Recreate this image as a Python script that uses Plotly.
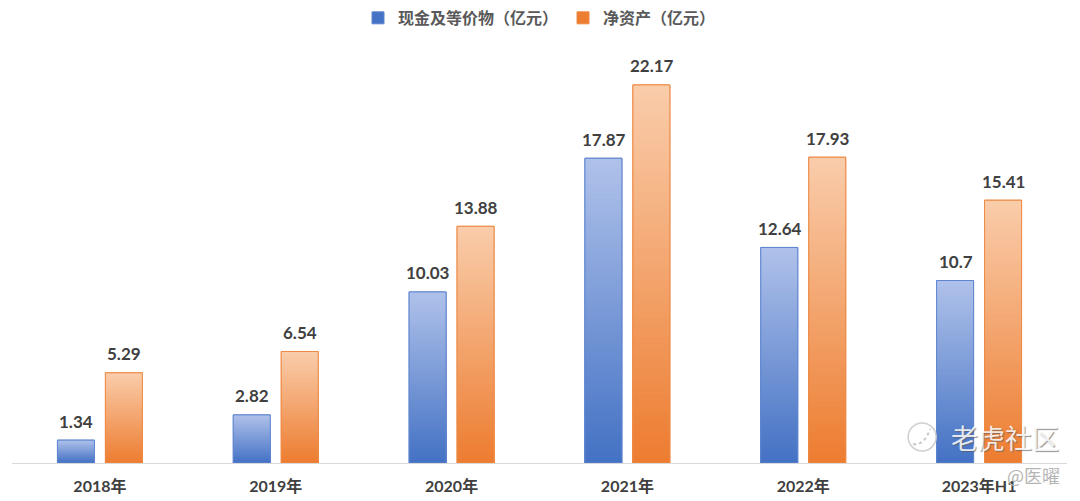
import plotly.graph_objects as go

categories = ["2018年", "2019年", "2020年", "2021年", "2022年", "2023年H1"]
cash = [1.34, 2.82, 10.03, 17.87, 12.64, 10.7]
equity = [5.29, 6.54, 13.88, 22.17, 17.93, 15.41]
names = ["现金及等价物（亿元）", "净资产（亿元）"]
tops = [(175, 193, 234), (249, 204, 170)]
bottoms = [(68, 114, 196), (237, 125, 49)]
outlines = ["#5f86cf", "#ee8a45"]
solids = ["#4472c4", "#ed7d31"]
BANDS = 60
LATIN = "Lato, 'Noto Sans CJK SC', sans-serif"
SERIF = "'Liberation Serif', 'Noto Sans CJK SC', serif"
INK = "#404040"
W, H0 = 1056, 463


def px(x):
    return (x - 11) / W


def py(y):
    return (463 - y) / H0


fig = go.Figure()
for idx, (name, values) in enumerate(zip(names, [cash, equity])):
    group = "abc"[idx]
    fig.add_trace(go.Bar(x=categories, y=values, name=name, offsetgroup=group,
                         marker=dict(color=solids[idx], line=dict(color=outlines[idx], width=1))))
    xs, hs, cols = [], [], []
    for c, v in zip(categories, values):
        for i in range(BANDS - 1, -1, -1):
            t = i / (BANDS - 1)
            rgb = [round(b + (a - b) * t) for a, b in zip(tops[idx], bottoms[idx])]
            xs.append(c)
            hs.append(v * (i + 1) / BANDS)
            cols.append(f"rgb({rgb[0]},{rgb[1]},{rgb[2]})")
    fig.add_trace(go.Bar(x=xs, y=hs, base=[0] * len(hs), offsetgroup=group, showlegend=False,
                         hoverinfo="skip", marker=dict(color=cols, line=dict(width=0))))
    fig.add_trace(go.Bar(x=categories, y=values, offsetgroup=group, showlegend=False,
                         marker=dict(color="rgba(0,0,0,0)", line=dict(color=outlines[idx], width=1))))
    shift = -23.5 if idx == 0 else 24.5
    for c, v in zip(categories, values):
        fig.add_annotation(x=c, y=v, text=str(v), showarrow=False, xshift=shift, yshift=19,
                           font=dict(family=LATIN, size=17, color=INK, weight="bold"))

# watermark
fig.add_shape(type="circle", xref="paper", yref="paper", x0=px(908), x1=px(936), y0=py(451), y1=py(423),
              line=dict(color="#d0d0d0", width=1.5), fillcolor="rgba(255,255,255,0.2)")
fig.add_shape(type="path", xref="paper", yref="paper",
              path=f"M {px(913)} {py(444)} Q {px(924)} {py(446)} {px(930)} {py(429)}",
              line=dict(color="#c8c8c8", width=2, dash="dot"))
fig.add_annotation(xref="paper", yref="paper", x=px(1005), y=py(437), text="老虎社区",
                   xanchor="center", yanchor="middle", showarrow=False,
                   font=dict(family="'Noto Sans CJK SC'", size=27, color="rgba(255,255,255,0.85)",
                             shadow="1px 1px 1px rgba(90,90,90,0.75)"))
fig.add_annotation(xref="paper", yref="paper", x=px(1033), y=0, yshift=-12, text="@医曜",
                   xanchor="center", yanchor="middle", showarrow=False,
                   font=dict(family="'Noto Sans CJK SC'", size=18, color="#b5b5b5"))

fig.update_layout(
    width=1080, height=501, margin=dict(l=11.5, r=12.5, t=0, b=38),
    paper_bgcolor="white", plot_bgcolor="white",
    barmode="group", bargap=0.4545, bargroupgap=0.229,
    showlegend=True,
    legend=dict(orientation="h", x=0.5, xanchor="center", y=0.998, yanchor="top",
                bgcolor="rgba(0,0,0,0)",
                font=dict(family=SERIF, size=16, color="#595959", weight="bold"), itemclick=False),
    xaxis=dict(type="category", categoryorder="array", categoryarray=categories, range=[-0.5, 5.5],
               showgrid=False, showline=True, linecolor="#d9d9d9", linewidth=1, ticks="",
               ticklabelstandoff=9,
               tickfont=dict(family=LATIN, size=16, color=INK, weight="bold")),
    yaxis=dict(range=[0, 27.15], visible=False, showgrid=False, zeroline=False),
)
fig.write_html("out.html", config={"displayModeBar": False}, post_script="document.body.style.margin='0';")
